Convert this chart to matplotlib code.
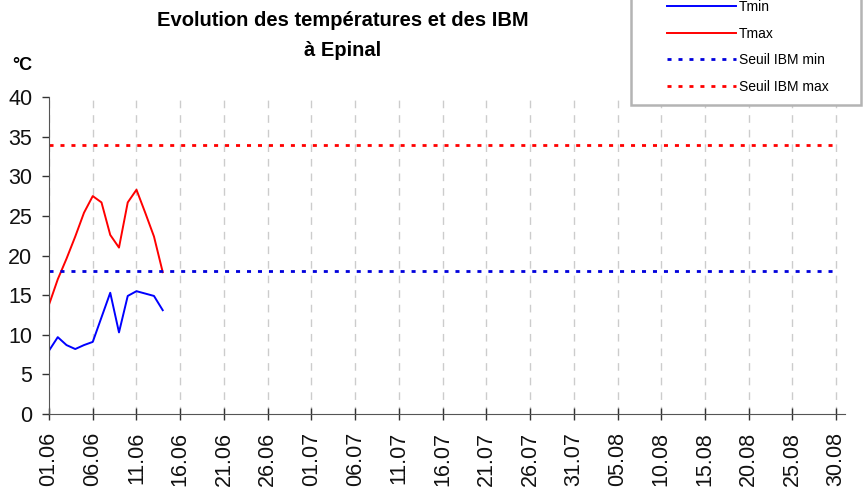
import matplotlib
matplotlib.use("Agg")
import matplotlib.pyplot as plt
from matplotlib.patches import Rectangle

plt.rcParams["font.family"] = ["Liberation Sans", "DejaVu Sans"]

# days counted from 01.06
days = list(range(14))
tmin = [8.0, 9.7, 8.7, 8.2, 8.7, 9.1, 12.2, 15.3, 10.3, 14.9, 15.5, 15.2, 14.9, 13.1]
tmax = [13.8, 17.0, 19.6, 22.4, 25.4, 27.5, 26.7, 22.6, 21.0, 26.7, 28.3, 25.4, 22.4, 17.9]

seuil_days = [0, 90]
seuil_min = 18
seuil_max = 34

tick_days = list(range(0, 91, 5))
tick_labels = ["01.06", "06.06", "11.06", "16.06", "21.06", "26.06", "01.07",
               "06.07", "11.07", "16.07", "21.07", "26.07", "31.07", "05.08",
               "10.08", "15.08", "20.08", "25.08", "30.08"]

fig = plt.figure(figsize=(8.66, 4.93), dpi=100)
ax = fig.add_axes([0.0566, 0.1602, 0.9191, 0.643])

ax.plot(days, tmin, color="#0000ff", lw=1.4, label="Tmin")
ax.plot(days, tmax, color="#ff0000", lw=1.4, label="Tmax")
ax.plot(seuil_days, [seuil_min] * 2, color="#0000dd", lw=2.0,
        dashes=(1.45, 2.5), label="Seuil IBM min")
ax.plot(seuil_days, [seuil_max] * 2, color="#ff0000", lw=2.0,
        dashes=(1.45, 2.5), label="Seuil IBM max")

ax.set_xlim(0, 91)
ax.set_ylim(0, 40)
ax.set_yticks(range(0, 41, 5))
ax.set_xticks(tick_days)
ax.set_xticklabels(tick_labels, rotation=90)
ax.tick_params(axis="both", labelsize=15.5, labelcolor="#111111",
               color="#333333", width=1)
ax.tick_params(axis="x", direction="inout", length=8, pad=9)
ax.tick_params(axis="y", direction="out", length=5, pad=7)
ax.xaxis.grid(True, color="#cccccc", ls=(0, (5.5, 5)), lw=1)
for s in ["top", "right"]:
    ax.spines[s].set_visible(False)
for s in ["left", "bottom"]:
    ax.spines[s].set_color("#555555")

fig.text(343 / 866, 1 - 20 / 493, "Evolution des températures et des IBM",
         ha="center", va="center", fontsize=14.5, fontweight="bold")
fig.text(343 / 866, 1 - 50 / 493, "à Epinal",
         ha="center", va="center", fontsize=14.5, fontweight="bold")
fig.text(12 / 866, 1 - 65 / 493, "°C", ha="left", va="center",
         fontsize=13, fontweight="bold")

# legend box, top edge outside the figure
fig.patches.append(Rectangle((631 / 866, 1 - 105 / 493), 230 / 866, 0.3,
                             transform=fig.transFigure, facecolor="white",
                             edgecolor="#b4b4b4", lw=1.8, zorder=3))
leg = fig.legend(loc="center left", bbox_to_anchor=(660 / 866, 1 - 47 / 493),
                 frameon=False, fontsize=10, handlelength=5,
                 handletextpad=0.2, labelspacing=0.9, borderpad=0)
leg.set_zorder(4)

fig.savefig("out.png", dpi=100)
